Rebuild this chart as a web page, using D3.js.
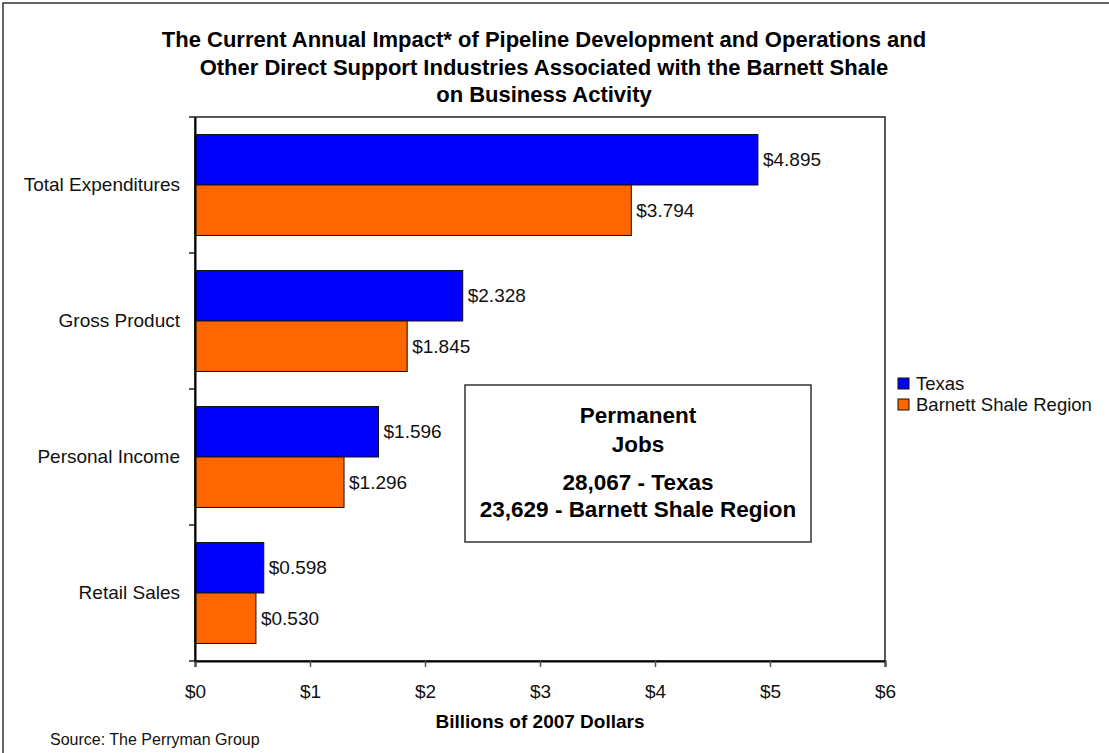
<!DOCTYPE html>
<html>
<head>
<meta charset="utf-8">
<script src="https://cdn.jsdelivr.net/npm/d3@7"></script>
<style>
  body { margin: 0; background: #fff; }
  svg { display: block; font-family: "Liberation Sans", Arial, sans-serif; }
</style>
</head>
<body>
<div id="chart"></div>
<script>
// chart data
const categories = ["Total Expenditures", "Gross Product", "Personal Income", "Retail Sales"];
const seriesNames = ["Texas", "Barnett Shale Region"];
const texas = [4.895, 2.328, 1.596, 0.598];
const barnett = [3.794, 1.845, 1.296, 0.530];
const xTicks = [0, 1, 2, 3, 4, 5, 6];
const titleLines = [
  "The Current Annual Impact* of Pipeline Development and Operations and",
  "Other Direct Support Industries Associated with the Barnett Shale",
  "on Business Activity"
];
const jobsLines = ["Permanent", "Jobs", "28,067 - Texas", "23,629 - Barnett Shale Region"];

const colors = { "Texas": "#0000ff", "Barnett Shale Region": "#ff6600" };

const width = 1109, height = 753;
const plotL = 195, plotR = 885, plotT = 117, plotB = 661;

const svg = d3.select("#chart").append("svg")
  .attr("width", width)
  .attr("height", height);

// outer chart border (only left/top are in view)
svg.append("rect")
  .attr("x", 3).attr("y", 3)
  .attr("width", 1200).attr("height", 800)
  .attr("fill", "none")
  .attr("stroke", "#333")
  .attr("stroke-width", 1.5);

// title
svg.append("g").selectAll("text")
  .data(titleLines).enter()
  .append("text")
  .attr("x", 544)
  .attr("y", (d, i) => 47 + i * 27.5)
  .attr("text-anchor", "middle")
  .style("font-size", "22px")
  .style("font-weight", "bold")
  .text(d => d);

// scales
const x = d3.scaleLinear().domain([0, 6]).range([plotL, plotR]);
const y0 = d3.scaleBand().domain(categories).range([plotT, plotB]);
const y1 = d3.scaleBand().domain(seriesNames)
  .range([0, y0.bandwidth()])
  .paddingOuter(0.347);

// plot frame
svg.append("rect")
  .attr("x", plotL).attr("y", plotT)
  .attr("width", plotR - plotL).attr("height", plotB - plotT)
  .attr("fill", "none")
  .attr("stroke", "#222")
  .attr("stroke-width", 1.5);

// rows of data
const rows = categories.map((c, i) => ({ cat: c, vals: [
  { name: "Texas", v: texas[i] },
  { name: "Barnett Shale Region", v: barnett[i] }
]}));

const groups = svg.append("g").selectAll("g")
  .data(rows).enter()
  .append("g")
  .attr("transform", d => "translate(0," + y0(d.cat) + ")");

groups.selectAll("rect")
  .data(d => d.vals).enter()
  .append("rect")
  .attr("x", x(0))
  .attr("y", d => y1(d.name))
  .attr("width", d => x(d.v) - x(0))
  .attr("height", y1.bandwidth())
  .attr("fill", d => colors[d.name])
  .attr("stroke", "#111")
  .attr("stroke-width", 1);

groups.selectAll("text")
  .data(d => d.vals).enter()
  .append("text")
  .attr("x", d => x(d.v) + 5)
  .attr("y", d => y1(d.name) + y1.bandwidth() / 2)
  .attr("dy", "0.35em")
  .style("font-size", "19px")
  .attr("fill", "#111")
  .text(d => "$" + d.v.toFixed(3));

// x axis
const xAxis = svg.append("g")
  .attr("transform", "translate(0," + plotB + ")")
  .call(d3.axisBottom(x).tickValues(xTicks).tickSize(6).tickPadding(18).tickFormat(d => "$" + d));
xAxis.select(".domain").attr("stroke", "#000").attr("stroke-width", 2);
xAxis.selectAll(".tick line").attr("stroke", "#555").attr("stroke-width", 1.5);
xAxis.selectAll(".tick text")
  .attr("fill", "#111")
  .style("font-size", "19px")
  .style("font-family", "'Liberation Sans', Arial, sans-serif");

// y axis: category labels + separator ticks
const yAxis = svg.append("g")
  .attr("transform", "translate(" + plotL + ",0)")
  .call(d3.axisLeft(y0).tickSize(0).tickPadding(15));
yAxis.select(".domain").attr("stroke", "#000").attr("stroke-width", 2);
yAxis.selectAll(".tick text")
  .attr("fill", "#111")
  .style("font-size", "19px")
  .style("font-family", "'Liberation Sans', Arial, sans-serif");

const seps = categories.map(c => y0(c)).concat([plotB]);
svg.append("g").selectAll("line")
  .data(seps).enter()
  .append("line")
  .attr("x1", plotL - 6).attr("x2", plotL)
  .attr("y1", d => d).attr("y2", d => d)
  .attr("stroke", "#222")
  .attr("stroke-width", 1.5);

// axis title
svg.append("text")
  .attr("x", 540).attr("y", 728)
  .attr("text-anchor", "middle")
  .style("font-size", "19px")
  .style("font-weight", "bold")
  .text("Billions of 2007 Dollars");

// source
svg.append("text")
  .attr("x", 50).attr("y", 745)
  .style("font-size", "16px")
  .attr("fill", "#111")
  .text("Source: The Perryman Group");

// legend
const legend = svg.append("g").selectAll("g")
  .data(seriesNames).enter()
  .append("g")
  .attr("transform", (d, i) => "translate(898," + (378 + i * 21) + ")");
legend.append("rect")
  .attr("width", 11).attr("height", 11)
  .attr("fill", d => colors[d])
  .attr("stroke", "#111");
legend.append("text")
  .attr("x", 18).attr("y", 5.5)
  .attr("dy", "0.35em")
  .style("font-size", "18.5px")
  .attr("fill", "#111")
  .text(d => d);

// jobs box
svg.append("rect")
  .attr("x", 465).attr("y", 385)
  .attr("width", 346).attr("height", 157)
  .attr("fill", "#fff")
  .attr("stroke", "#333")
  .attr("stroke-width", 1.5);
svg.append("g").selectAll("text")
  .data(jobsLines).enter()
  .append("text")
  .attr("x", 638)
  .attr("y", (d, i) => [423, 452, 490, 517][i])
  .attr("text-anchor", "middle")
  .style("font-size", "22.5px")
  .style("font-weight", "bold")
  .text(d => d);
</script>
</body>
</html>
